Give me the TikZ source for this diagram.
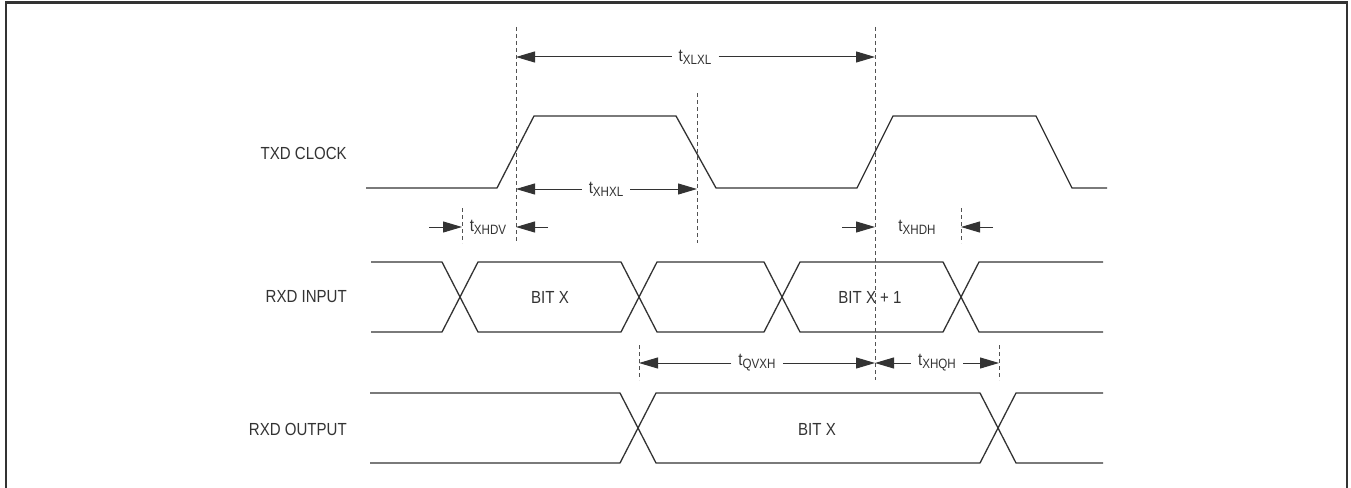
\documentclass[tikz,border=0pt]{standalone}
\usepackage{fontspec}
\setmainfont[FakeStretch=0.86]{Liberation Sans}
\usetikzlibrary{arrows.meta}
\definecolor{ink}{gray}{0.2}
\newcommand{\tsym}[1]{t\raisebox{-3pt}{\fontsize{13.5}{13.5}\selectfont #1}}
\tikzset{
  wave/.style={draw=ink, line width=1.3pt},
  guide/.style={draw=ink!85, line width=0.9pt, dash pattern=on 4pt off 3pt},
  dim/.style={draw=ink, line width=1pt, -{Triangle[length=19pt,width=11pt]}},
  sig/.style={anchor=east, text=ink, inner sep=0pt, font=\fontsize{17.5}{19}\selectfont},
  tlab/.style={text=ink, inner xsep=7pt, inner ysep=1pt, font=\fontsize{17.5}{19}\selectfont},
  bitlab/.style={text=ink, font=\fontsize{17.5}{19}\selectfont}
}
\begin{document}
\begin{tikzpicture}[x=1pt,y=-1pt]
\def\hi{116} \def\lo{188}
\useasboundingbox (0,0) rectangle (1351,487);
\draw[ink, line width=2.6pt] (6,495) -- (6,2.5) -- (1347,2.5) -- (1347,495);
    % signal names
    \node[sig] (txd) at (347,153) {TXD CLOCK};
    \node[sig] (rxdin) at (347,297) {RXD INPUT};
    \node[sig] (rxdout) at (347,429) {RXD OUTPUT};
    % clock
    \draw[wave] (366,\lo) -- (497,\lo) -- (534,\hi) -- (676,\hi) -- (716,\lo) -- (857,\lo)
        -- (893,\hi) -- (1036,\hi) -- (1072,\lo) -- (1107,\lo);
    % rxd input
    \draw[wave] (371,262) -- (442,262) -- (478,332) -- (621,332) -- (657,262) -- (764,262)
        -- (800,332) -- (943,332) -- (979,262) -- (1103,262);
    \draw[wave] (371,332) -- (442,332) -- (478,262) -- (621,262) -- (657,332) -- (764,332)
        -- (800,262) -- (943,262) -- (979,332) -- (1103,332);
    \node[bitlab] (bitin) at (550,297) {BIT X};
    \node[bitlab] (bitnext) at (870,297) {BIT X + 1};
    % rxd output
    \draw[wave] (370,393) -- (620,393) -- (656,463) -- (980,463) -- (1016,393) -- (1103,393);
    \draw[wave] (370,463) -- (620,463) -- (656,393) -- (980,393) -- (1016,463) -- (1103,463);
    \node[bitlab] (bitout) at (817,429) {BIT X};
    % guides
    \draw[guide] (516,27) -- (516,243);
    \draw[guide] (697,93) -- (697,243);
    \draw[guide] (875,27) -- (875,380);
    \draw[guide] (462,208) -- (462,243);
    \draw[guide] (961,208) -- (961,243);
    \draw[guide] (639,345) -- (639,380);
    \draw[guide] (999,345) -- (999,380);
    % timing labels
    \node[tlab] (xlxl) at (695,57) {\tsym{XLXL}};
    \node[tlab] (xhxl) at (606,189) {\tsym{XHXL}};
    \node[tlab] (xhdv) at (488,227) {\tsym{XHDV}};
    \node[tlab] (xhdh) at (917,227) {\tsym{XHDH}};
    \node[tlab] (qvxh) at (757,363) {\tsym{QVXH}};
    \node[tlab] (xhqh) at (937,363) {\tsym{XHQH}};
    \coordinate (l1) at (516,57);  \coordinate (r1) at (875,57);
    \coordinate (l2) at (516,189); \coordinate (r2) at (697,189);
    \coordinate (dv0) at (429,227); \coordinate (dv1) at (462,227);
    \coordinate (dv2) at (548,227); \coordinate (dv3) at (516,227);
    \coordinate (dh0) at (842,227); \coordinate (dh1) at (875,227);
    \coordinate (dh2) at (993,227); \coordinate (dh3) at (961,227);
    \coordinate (l3) at (639,363); \coordinate (r3) at (875,363);
    \coordinate (r4) at (999,363);
    \draw[dim] (xlxl) -- (l1);
    \draw[dim] (xlxl) -- (r1);
    \draw[dim] (xhxl) -- (l2);
    \draw[dim] (xhxl) -- (r2);
    \draw[dim] (dv0) -- (dv1);
    \draw[dim] (dv2) -- (dv3);
    \draw[dim] (dh0) -- (dh1);
    \draw[dim] (dh2) -- (dh3);
    \draw[dim] (qvxh) -- (l3);
    \draw[dim] (qvxh) -- (r3);
    \draw[dim] (xhqh) -- (r3);
    \draw[dim] (xhqh) -- (r4);
\end{tikzpicture}
\end{document}
